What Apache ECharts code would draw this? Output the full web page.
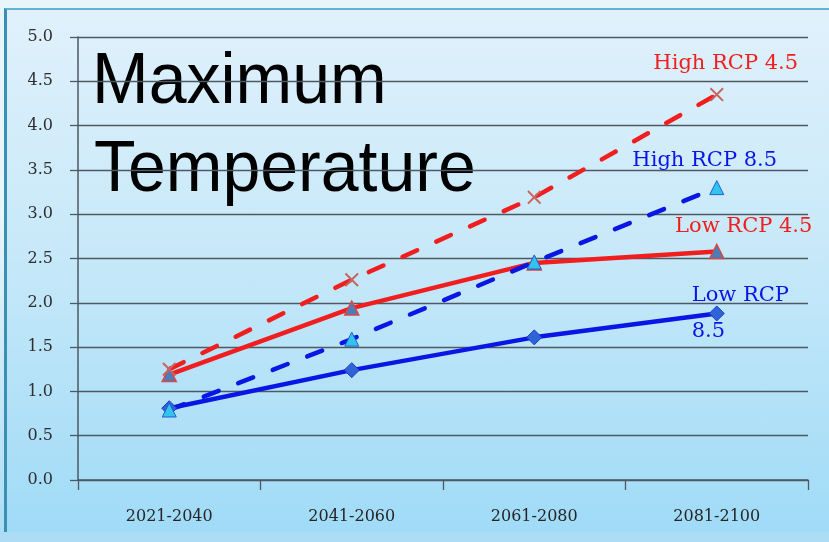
<!DOCTYPE html>
<html>
<head>
<meta charset="utf-8">
<script src="https://cdn.jsdelivr.net/npm/echarts@6/dist/echarts.min.js"></script>
<style>
  html, body { margin: 0; padding: 0; overflow: hidden; }
  body { background: linear-gradient(to bottom, #e8f5fb 0%, #e8f5fb 40%, #abdcf5 100%); width: 829px; height: 542px; }
  #frame {
    position: absolute; left: 4px; top: 8px; width: 825px; height: 524px;
    box-sizing: border-box;
    border-left: 3px solid #3b8fb3; border-top: 2px solid #62b3d6;
    background: linear-gradient(to bottom, #e0f1fb 0%, #c8e9f9 45%, #a0dbf7 100%);
  }
  #chart { position: absolute; left: 0; top: 0; width: 829px; height: 542px; }
</style>
</head>
<body>
<div id="frame"></div>
<div id="chart"></div>
<script>
// Periods on the category axis
const categories = ['2021-2040', '2041-2060', '2061-2080', '2081-2100'];

// Projected rise in maximum temperature per scenario
const highRcp45 = [1.25, 2.26, 3.19, 4.35];
const lowRcp45  = [1.19, 1.94, 2.45, 2.58];
const highRcp85 = [0.79, 1.59, 2.46, 3.30];
const lowRcp85  = [0.81, 1.24, 1.61, 1.88];

// Value axis range and step
const yMin = 0;
const yMax = 5;
const yStep = 0.5;

const titleLines = ['Maximum', 'Temperature'];

const RED = '#f01e1e';
const BLUE = '#0a16e4';
const GRID = '#4d5963';
const SERIF = '"DejaVu Serif", "Liberation Serif", serif';

// Put the scenario name next to the final point of a series
function withEndLabel(values, text, color, offset, align) {
  return values.map(function (v, i) {
    if (i !== values.length - 1) return v;
    return {
      value: v,
      label: {
        show: true,
        formatter: text,
        position: 'inside',
        offset: offset,
        align: align || 'center',
        color: color,
        fontFamily: SERIF,
        fontSize: 21,
        lineHeight: 36
      }
    };
  });
}

const crossPath = 'path://M1,0L5,4L9,0L10,1L6,5L10,9L9,10L5,6L1,10L0,9L4,5L0,1Z';

const chart = echarts.init(document.getElementById('chart'), null, { renderer: 'canvas' });

chart.setOption({
  backgroundColor: 'transparent',
  animation: false,
  grid: { left: 78, right: 21, top: 37, bottom: 62, containLabel: false },
  graphic: [
    {
      type: 'text', x: 92, y: 83, scaleY: 1.07, silent: true,
      style: { text: titleLines[0], font: '68px "Liberation Sans", Arial, sans-serif', fill: '#000', verticalAlign: 'middle' }
    },
    {
      type: 'text', x: 94, y: 171, scaleY: 1.07, silent: true,
      style: { text: titleLines[1], font: '68px "Liberation Sans", Arial, sans-serif', fill: '#000', verticalAlign: 'middle' }
    }
  ],
  xAxis: {
    type: 'category',
    data: categories,
    boundaryGap: true,
    axisLine: { show: true, lineStyle: { color: GRID, width: 1.5 } },
    axisTick: { show: true, length: 10, lineStyle: { color: GRID, width: 1.3 } },
    axisLabel: { margin: 29, color: '#262626', fontFamily: SERIF, fontSize: 16 },
    splitLine: { show: false }
  },
  yAxis: {
    type: 'value',
    min: yMin, max: yMax, interval: yStep,
    axisLine: { show: true, lineStyle: { color: GRID, width: 1.5 } },
    axisTick: { show: true, length: 8, lineStyle: { color: GRID, width: 1.3 } },
    axisLabel: {
      margin: 25, color: '#2e2e2e', fontFamily: SERIF, fontSize: 16,
      formatter: function (v) { return v.toFixed(1); }
    },
    splitLine: { show: true, lineStyle: { color: GRID, width: 1.4 } }
  },
  series: [
    {
      name: 'Low RCP 4.5',
      type: 'line',
      data: withEndLabel(lowRcp45, 'Low RCP 4.5', RED, [27, -25]),
      lineStyle: { color: RED, width: 4.5, cap: 'round' },
      symbol: 'triangle', symbolSize: 14,
      itemStyle: { color: '#4a7ebb', borderColor: '#d84848', borderWidth: 1.5 },
      emphasis: { disabled: true }
    },
    {
      name: 'High RCP 4.5',
      type: 'line',
      data: withEndLabel(highRcp45, 'High RCP 4.5', RED, [9, -31]),
      lineStyle: { color: RED, width: 4.5, type: [16, 21], cap: 'round' },
      symbol: crossPath, symbolSize: 14,
      itemStyle: { color: '#c8645f', borderWidth: 0 },
      emphasis: { disabled: true }
    },
    {
      name: 'Low RCP 8.5',
      type: 'line',
      data: withEndLabel(lowRcp85, 'Low RCP\n8.5', BLUE, [-25, 0], 'left'),
      lineStyle: { color: BLUE, width: 4.5, cap: 'round' },
      symbol: 'diamond', symbolSize: 15,
      itemStyle: { color: '#2f63d8', borderColor: '#1a3cc0', borderWidth: 1 },
      emphasis: { disabled: true }
    },
    {
      name: 'High RCP 8.5',
      type: 'line',
      data: withEndLabel(highRcp85, 'High RCP 8.5', BLUE, [-12, -27]),
      lineStyle: { color: BLUE, width: 4.5, type: [16, 21], cap: 'round' },
      symbol: 'triangle', symbolSize: 14,
      itemStyle: { color: '#33c4ee', borderColor: '#1f5fd0', borderWidth: 1 },
      emphasis: { disabled: true }
    }
  ]
});
</script>
</body>
</html>
